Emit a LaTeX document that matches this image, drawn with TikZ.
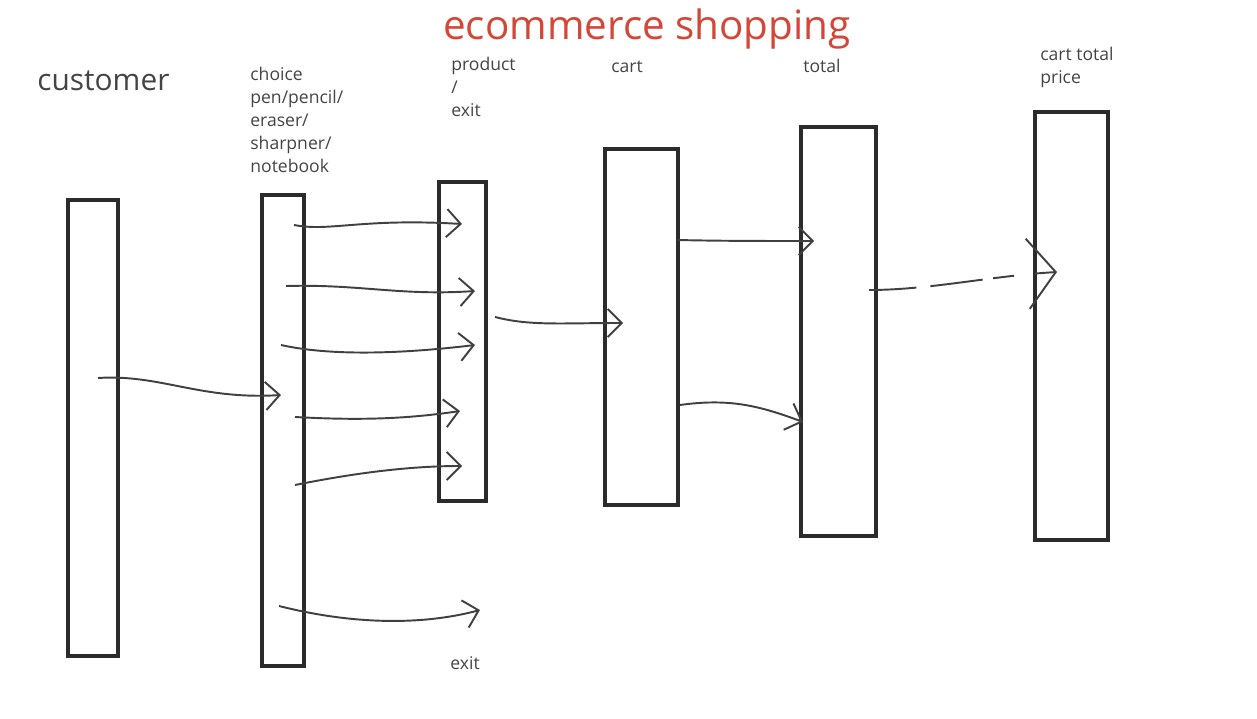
\documentclass[tikz,border=0pt]{standalone}
\usepackage{fontspec}
\setmainfont{Open Sans}
\usetikzlibrary{arrows.meta}

\definecolor{titlered}{HTML}{D44638}
\definecolor{inkgray}{HTML}{2B2B2B}
\definecolor{labelgray}{HTML}{444444}

\begin{document}
\begin{tikzpicture}[
  x=0.02cm, y=-0.02cm,
  bar/.style={rectangle, draw=inkgray, line width=2.3pt, inner sep=0pt},
  lbl/.style={anchor=north west, align=left, inner sep=0pt, text=labelgray,
              font=\fontsize{10}{13}\selectfont},
  arr/.style={-{Straight Barb[length=8pt, width=16pt]}, line width=1.1pt, draw=inkgray!90},
  bigarr/.style={-{Straight Barb[length=16pt, width=40pt]}, line width=1.1pt, draw=inkgray!90}
]
\useasboundingbox (0,0) rectangle (1257,719);

% title and labels
\node[anchor=base, text=titlered, font=\fontsize{23}{27}\selectfont] (title) at (647,40) {ecommerce shopping};
\node[anchor=base west, inner sep=0pt, text=labelgray, font=\fontsize{17}{20}\selectfont] (custlbl) at (37,91) {customer};
\node[lbl] (choicelbl) at (250,67) {choice\\pen/pencil/\\eraser/\\sharpner/\\notebook};
\node[lbl] (prodlbl) at (451,57) {product\\/\\exit};
\node[lbl] (cartlbl) at (611,61) {cart};
\node[lbl] (totallbl) at (803,59) {total};
\node[lbl] (pricelbl) at (1040,47) {cart total\\price};
\node[lbl] (exitlbl) at (450,656) {exit};

% bars
\node[bar, minimum width=1.0cm,  minimum height=9.12cm] (cust)   at (93,428) {};
\node[bar, minimum width=0.84cm, minimum height=9.42cm] (choice) at (283,430.5) {};
\node[bar, minimum width=0.94cm, minimum height=6.38cm] (prod)   at (462.5,341.5) {};
\node[bar, minimum width=1.46cm, minimum height=7.12cm] (cart)   at (641.5,327) {};
\node[bar, minimum width=1.5cm,  minimum height=8.18cm] (total)  at (838.5,331.5) {};
\node[bar, minimum width=1.46cm, minimum height=8.56cm] (price)  at (1071.5,326) {};

% arrow ends
\coordinate (s1) at (98,378);   \coordinate (e1) at (281,395);
\coordinate (s2a) at (294,225); \coordinate (e2a) at (462,224);
\coordinate (s2b) at (286,286); \coordinate (e2b) at (475,291);
\coordinate (s2c) at (281,345); \coordinate (e2c) at (475,345);
\coordinate (s2d) at (295,417); \coordinate (e2d) at (460,411);
\coordinate (s2e) at (295,485); \coordinate (e2e) at (462,466);
\coordinate (s2f) at (279,606); \coordinate (e2f) at (480,610);
\coordinate (s3) at (495,317);  \coordinate (e3) at (623,323);
\coordinate (s4a) at (678,240); \coordinate (e4a) at (814,241);
\coordinate (s4b) at (680,405); \coordinate (e4b) at (803,422);
\coordinate (s5) at (869,290);  \coordinate (e5) at (1057,272);

\draw[arr] (s1) .. controls (160,374) and (200,400) .. (e1);
\draw[arr] (s2a) .. controls (330,232) and (360,218) .. (e2a);
\draw[arr] (s2b) .. controls (360,284) and (400,296) .. (e2b);
\draw[arr] (s2c) .. controls (330,356) and (400,354) .. (e2c);
\draw[arr] (s2d) .. controls (350,420) and (400,420) .. (e2d);
\draw[arr] (s2e) .. controls (340,476) and (400,466) .. (e2e);
\draw[arr] (s2f) .. controls (350,624) and (420,626) .. (e2f);
\draw[arr] (s3) .. controls (530,326) and (560,323) .. (e3);
\draw[arr] (s4a) .. controls (720,241) and (760,241) .. (e4a);
\draw[arr] (s4b) .. controls (730,398) and (760,406) .. (e4b);
\draw[bigarr, dash pattern=on 27pt off 8pt on 30pt off 6pt on 12pt off 12pt] (s5) .. controls (930,290) and (990,276) .. (e5);
\end{tikzpicture}
\end{document}
